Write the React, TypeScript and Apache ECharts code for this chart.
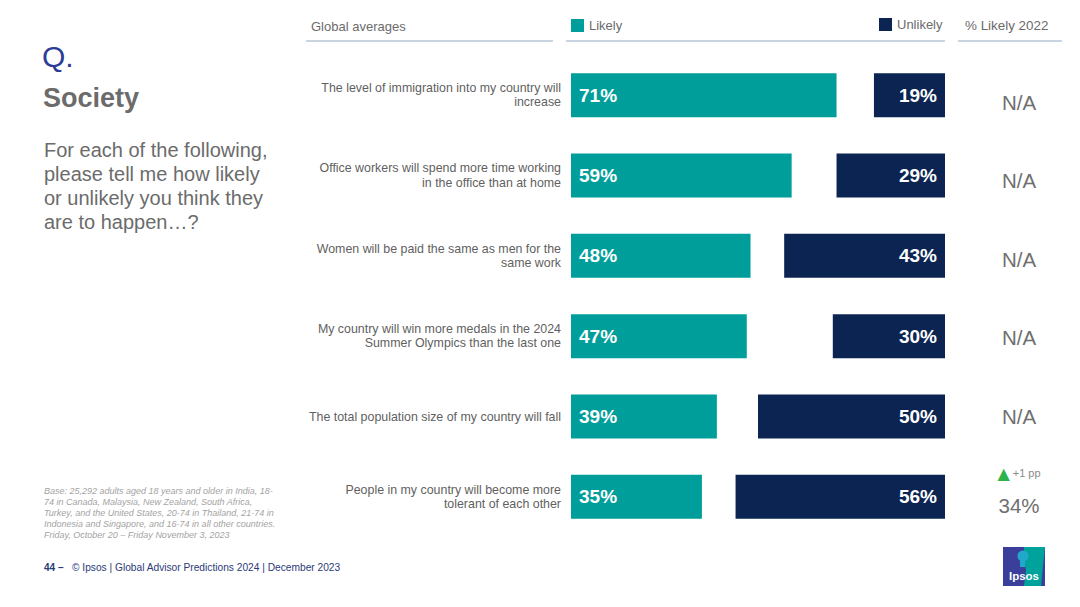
import React, { useEffect, useRef } from "react";
import * as echarts from "echarts";

const categories = [
  "The level of immigration into my country will\nincrease",
  "Office workers will spend more time working\nin the office than at home",
  "Women will be paid the same as men for the\nsame work",
  "My country will win more medals in the 2024\nSummer Olympics than the last one",
  "The total population size of my country will fall",
  "People in my country will become more\ntolerant of each other",
];
const likely = [71, 59, 48, 47, 39, 35];
const unlikely = [19, 29, 43, 30, 50, 56];
const likely2022 = ["N/A", "N/A", "N/A", "N/A", "N/A", "34%"];
const change2022 = [null, null, null, null, null, "+1 pp"];

const TEAL = "#009e9a";
const NAVY = "#0b2452";
const FONT = "'Liberation Sans', Arial, Helvetica, sans-serif";

export default function App() {
  const ref = useRef<HTMLDivElement>(null);
  useEffect(() => {
    document.body.style.margin = "0";
    const chart = echarts.init(ref.current!, undefined, { renderer: "svg" });
    const txt = (x: number, y: number, text: string, style: any) => ({
      type: "text",
      x,
      y,
      style: { text, fontFamily: FONT, verticalAlign: "middle", ...style },
    });
    const option: any = {
      animation: false,
      backgroundColor: "#ffffff",
      textStyle: { fontFamily: FONT },
      legend: [
        {
          data: ["Likely"],
          left: 571,
          top: 19,
          padding: 0,
          icon: "rect",
          itemWidth: 13,
          itemHeight: 13,
          selectedMode: false,
          textStyle: { color: "#6b6b6b", fontSize: 13, fontFamily: FONT },
        },
        {
          data: ["Unlikely"],
          left: 879,
          top: 18,
          padding: 0,
          icon: "rect",
          itemWidth: 13,
          itemHeight: 13,
          selectedMode: false,
          textStyle: { color: "#6b6b6b", fontSize: 13, fontFamily: FONT },
        },
      ],
      grid: [
        { left: 571, right: 135, top: 55, bottom: 70, containLabel: false },
        { left: 1019, width: 1, top: 63, bottom: 73, containLabel: false },
      ],
      xAxis: [
        { type: "value", min: 0, max: 100, show: false, gridIndex: 0 },
        { type: "value", min: 0, max: 100, show: false, gridIndex: 1 },
      ],
      yAxis: [
        {
          type: "category",
          gridIndex: 0,
          data: categories,
          inverse: true,
          axisLine: { show: false },
          axisTick: { show: false },
          axisLabel: {
            color: "#5f5f5f",
            fontSize: 12.4,
            lineHeight: 14.5,
            margin: 10,
            fontFamily: FONT,
          },
        },
        {
          type: "category",
          gridIndex: 1,
          data: categories,
          inverse: true,
          position: "left",
          axisLine: { show: false },
          axisTick: { show: false },
          axisLabel: {
            margin: 0,
            align: "center",
            formatter: (_v: string, i: number) => {
              const ch = change2022[i];
              if (ch) {
                return `{tri|▲}{ch| ${ch}}\n{v|${likely2022[i]}}`;
              }
              return `{na|${likely2022[i]}}`;
            },
            rich: {
              na: { fontSize: 20.5, color: "#6f6f6f", fontFamily: FONT },
              v: { fontSize: 20.5, color: "#6f6f6f", fontFamily: FONT, lineHeight: 43 },
              tri: { fontSize: 16, color: "#2eb24a", fontFamily: "DejaVu Sans", lineHeight: 21 },
              ch: { fontSize: 11, color: "#8a8a8a", fontFamily: FONT, lineHeight: 21 },
            },
          },
        },
      ],
      series: [
        {
          name: "Likely",
          type: "bar",
          data: likely,
          barWidth: 44,
          barGap: "-100%",
          itemStyle: { color: TEAL },
          label: {
            show: true,
            position: "insideLeft",
            distance: 8,
            formatter: "{c}%",
            color: "#ffffff",
            fontSize: 19,
            fontWeight: "bold",
            fontFamily: FONT,
          },
        },
        {
          name: "base",
          type: "bar",
          stack: "u",
          data: unlikely.map((u) => 100 - u),
          barWidth: 44,
          itemStyle: { color: "rgba(0,0,0,0)" },
          silent: true,
          label: { show: false },
        },
        {
          name: "Unlikely",
          type: "bar",
          stack: "u",
          data: unlikely,
          barWidth: 44,
          itemStyle: { color: NAVY },
          label: {
            show: true,
            position: "insideRight",
            distance: 8,
            formatter: "{c}%",
            color: "#ffffff",
            fontSize: 19,
            fontWeight: "bold",
            fontFamily: FONT,
          },
        },
      ],
      graphic: [
        txt(311, 26, "Global averages", { fontSize: 13, fill: "#6b6b6b" }),
        txt(965, 25, "% Likely 2022", { fontSize: 13.4, fill: "#6b6b6b" }),
        { type: "line", shape: { x1: 306, y1: 41, x2: 553, y2: 41 }, style: { stroke: "#b9c4d6", lineWidth: 1.5 } },
        { type: "line", shape: { x1: 566, y1: 41, x2: 945, y2: 41 }, style: { stroke: "#b9c4d6", lineWidth: 1.5 } },
        { type: "line", shape: { x1: 958, y1: 41, x2: 1062, y2: 41 }, style: { stroke: "#b9c4d6", lineWidth: 1.5 } },
        txt(42, 56, "Q.", { fontSize: 30, fill: "#2d3c96" }),
        txt(43, 98, "Society", { fontSize: 27, fontWeight: "bold", fill: "#6b6b6b" }),
        {
          type: "text",
          x: 44,
          y: 138,
          style: {
            text: "For each of the following,\nplease tell me how likely\nor unlikely you think they\nare to happen…?",
            fontSize: 20,
            lineHeight: 24,
            fill: "#6b6b6b",
            fontFamily: FONT,
          },
        },
        {
          type: "text",
          x: 44,
          y: 485,
          style: {
            text:
              "Base: 25,292 adults aged 18 years and older in India, 18-\n74 in Canada, Malaysia, New Zealand, South Africa,\nTurkey, and the United States, 20-74 in Thailand, 21-74 in\nIndonesia and Singapore, and 16-74 in all other countries.\nFriday, October 20 – Friday November 3, 2023",
            fontSize: 9,
            lineHeight: 11,
            fontStyle: "italic",
            fill: "#a3a3a3",
            fontFamily: FONT,
          },
        },
        txt(44, 567, "44 –", { fontSize: 10, fontWeight: "bold", fill: "#2b3a78" }),
        txt(72, 567, "© Ipsos | Global Advisor Predictions 2024 | December 2023", { fontSize: 10.2, fill: "#2b3a78" }),
        {
          type: "group",
          children: [
            { type: "rect", shape: { x: 1003, y: 547, width: 42, height: 39 }, style: { fill: "#3a3f9c" } },
            {
              type: "polygon",
              shape: { points: [[1024, 547], [1045, 547], [1043, 566], [1041, 586], [1024, 586], [1026, 570], [1024, 560]] },
              style: { fill: "#00a29c" },
            },
            { type: "circle", shape: { cx: 1023, cy: 556, r: 5.5 }, style: { fill: "#22a9c9" } },
            { type: "rect", shape: { x: 1020, y: 560, width: 5, height: 7 }, style: { fill: "#22a9c9" } },
            txt(1024, 576, "Ipsos", { fontSize: 11.5, fontWeight: "bold", fill: "#ffffff", align: "center" }),
          ],
        },
      ],
    };
    chart.setOption(option);
    return () => chart.dispose();
  }, []);
  return <div ref={ref} style={{ width: 1080, height: 607 }} />;
}
